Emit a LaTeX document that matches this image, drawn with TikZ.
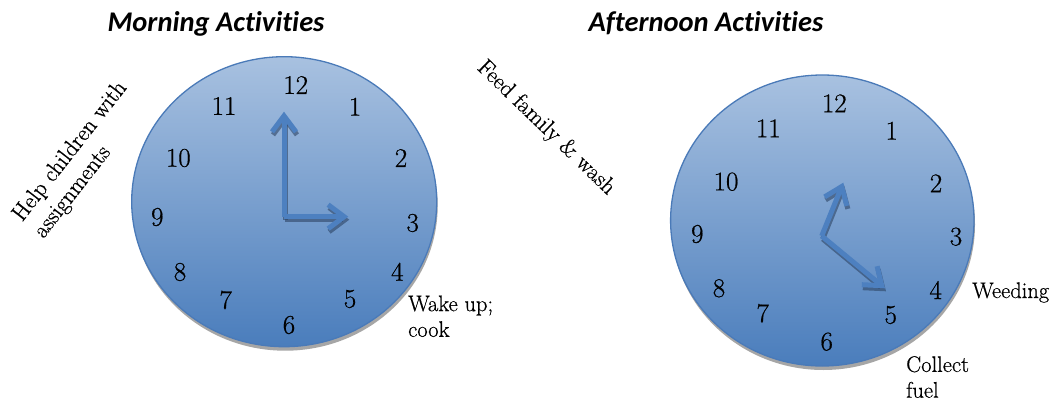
\documentclass[tikz,border=0pt]{standalone}
\usepackage{fontspec}
\setmainfont{Latin Modern Roman}[FakeBold=0.6]
\newfontfamily\titlefont{Carlito}[Ligatures=NoCommon]
\usetikzlibrary{arrows.meta}
\definecolor{clocktop}{RGB}{168,193,224}
\definecolor{clockbot}{RGB}{74,125,188}
\definecolor{clockrim}{RGB}{74,122,184}
\definecolor{handblue}{RGB}{77,128,192}
\definecolor{handshadow}{RGB}{45,68,100}
\begin{document}
\begin{tikzpicture}[x=1pt,y=-1pt,
  face/.style={top color=clocktop,bottom color=clockbot,draw=clockrim,line width=1.3pt},
  faceshadow/.style={fill=black!35},
  num/.style={font=\fontsize{27}{30}\selectfont,inner sep=0pt},
  hand/.style={draw=handblue,line width=5pt,line join=round,-{Straight Barb[length=16pt,width=24pt]}},
  handsh/.style={draw=handshadow,opacity=0.6,line width=5pt,line join=round,-{Straight Barb[length=16pt,width=24pt]}},
  title/.style={font=\titlefont\bfseries\itshape\fontsize{28.5}{32}\selectfont,anchor=base,inner sep=0pt},
  lab/.style={font=\fontsize{22.5}{25.7}\selectfont,align=left,inner sep=0pt},
  rlab/.style={font=\fontsize{23}{27}\selectfont,align=left,inner sep=0pt}
]
\useasboundingbox (0,0) rectangle (1060,401);
\fill[white] (0,0) rectangle (1060,401);

% titles
\node[title] (t1) at (216,31.5) {Morning Activities};
\node[title] (t2) at (706,31.5) {Afternoon Activities};

% left clock
\fill[faceshadow] (285.2,205.7) ellipse [x radius=152.5, y radius=145];
\shade[face] (284.2,201.7) ellipse [x radius=152.5, y radius=145];
\node[num] (l12) at (295.7,85) {12};
\node[num] (l1) at (355,106.7) {1};
\node[num] (l2) at (401,158) {2};
\node[num] (l3) at (412.7,223) {3};
\node[num] (l4) at (397.3,271.7) {4};
\node[num] (l5) at (350,299) {5};
\node[num] (l6) at (289,325) {6};
\node[num] (l7) at (225.7,300) {7};
\node[num] (l8) at (180,272) {8};
\node[num] (l9) at (157.3,217) {9};
\node[num] (l10) at (178.3,158) {10};
\node[num] (l11) at (224,106) {11};
\coordinate (lc) at (284,216.7);
\coordinate (lm) at (284,111.7);
\coordinate (lh) at (348.3,216.7);
\coordinate (lcs) at (285,219.7);
\coordinate (lms) at (285,114.7);
\coordinate (lhs) at (349.3,219.7);
\draw[handsh] (lcs) -- (lms);
\draw[handsh] (lcs) -- (lhs);
\draw[hand] (lc) -- (lm);
\draw[hand] (lc) -- (lh);

% right clock
\fill[faceshadow] (823.3,224.5) ellipse [x radius=151.7, y radius=145.5];
\shade[face] (822.3,220.5) ellipse [x radius=151.7, y radius=145.5];
\node[num] (r12) at (834.3,103.3) {12};
\node[num] (r1) at (891.7,130.7) {1};
\node[num] (r2) at (936,183.3) {2};
\node[num] (r3) at (956,236.7) {3};
\node[num] (r4) at (935.7,290) {4};
\node[num] (r5) at (890.7,315) {5};
\node[num] (r6) at (826.7,341.7) {6};
\node[num] (r7) at (762.7,313.3) {7};
\node[num] (r8) at (719,288.3) {8};
\node[num] (r9) at (697.3,234) {9};
\node[num] (r10) at (726,181.7) {10};
\node[num] (r11) at (768.3,128.3) {11};
\coordinate (rc) at (821.7,236);
\coordinate (rm) at (843.3,182.7);
\coordinate (rh) at (885,288.3);
\coordinate (rcs) at (822.7,239);
\coordinate (rms) at (844.3,185.7);
\coordinate (rhs) at (886,291.3);
\draw[handsh] (rcs) -- (rms);
\draw[handsh] (rcs) -- (rhs);
\draw[hand] (rc) -- (rm);
\draw[hand] (rc) -- (rh);

% labels
\node[rlab,rotate=52] (help) at (81,160) {Help children with\\assignments};
\node[rlab,rotate=-44] (feed) at (546,128) {Feed family \& wash};
\node[lab,anchor=north west] (wake) at (408,295.3) {Wake up;\\cook};
\node[lab,anchor=base west] (weed) at (972,298) {Weeding};
\node[lab,anchor=north west] (fuel) at (906,356) {Collect\\fuel};
\end{tikzpicture}
\end{document}
